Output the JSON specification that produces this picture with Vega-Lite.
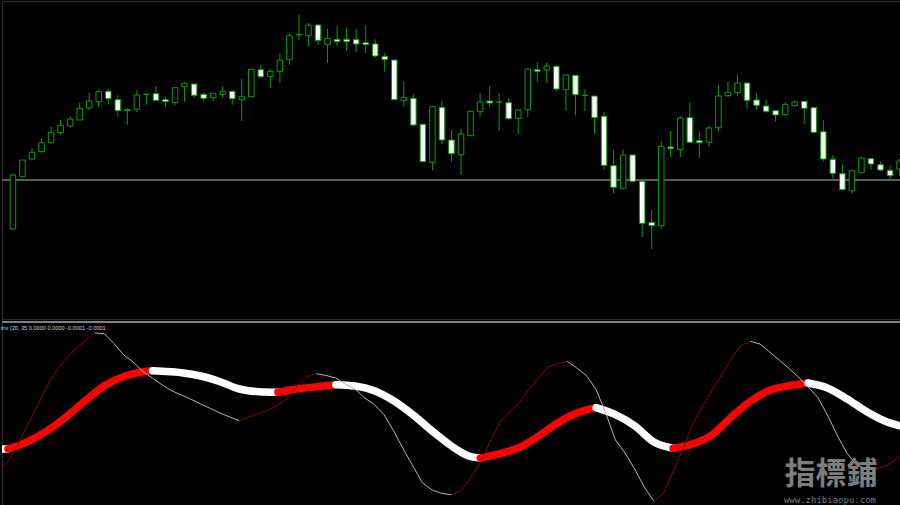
{
"$schema":"https://vega.github.io/schema/vega-lite/v6.json",
"background":"#000000",
"padding":0,
"spacing":0,
"config":{"view":{"stroke":"#2e2e2e","strokeWidth":1},"concat":{"spacing":0}},
"datasets":{
"candles":[
{"i":0,"o":92,"h":147.3,"l":91,"c":146},
{"i":1,"o":144.3,"h":161,"l":144.3,"c":161},
{"i":2,"o":162,"h":173,"l":160.7,"c":168.7},
{"i":3,"o":169.3,"h":183,"l":168.3,"c":178.3},
{"i":4,"o":178.3,"h":194,"l":177.7,"c":188.7},
{"i":5,"o":188.3,"h":201,"l":186,"c":195.7},
{"i":6,"o":195,"h":204.3,"l":193.3,"c":202},
{"i":7,"o":201,"h":218.3,"l":201,"c":212.7},
{"i":8,"o":213,"h":228,"l":210.7,"c":220},
{"i":9,"o":219.3,"h":231.7,"l":214,"c":229.3},
{"i":10,"o":229.7,"h":231.7,"l":216.7,"c":222.3},
{"i":11,"o":221.3,"h":225.7,"l":204.3,"c":210.3},
{"i":12,"o":210.5,"h":212.7,"l":196.3,"c":211.5},
{"i":13,"o":211.7,"h":231,"l":209,"c":226},
{"i":14,"o":226.7,"h":226.7,"l":216.3,"c":226.7},
{"i":15,"o":227.3,"h":235,"l":220.7,"c":220.7},
{"i":16,"o":221.3,"h":224.3,"l":214.3,"c":219.3},
{"i":17,"o":218.3,"h":234,"l":215.7,"c":233.3},
{"i":18,"o":234.3,"h":238.3,"l":219.3,"c":237.7},
{"i":19,"o":237,"h":237.7,"l":223.3,"c":225.7},
{"i":20,"o":226.7,"h":228,"l":220,"c":222.7},
{"i":21,"o":223.3,"h":227.7,"l":219.3,"c":227.7},
{"i":22,"o":226.7,"h":234.7,"l":223.3,"c":229.3},
{"i":23,"o":229.7,"h":229.7,"l":216.3,"c":222.3},
{"i":24,"o":221.3,"h":242,"l":200,"c":224.3},
{"i":25,"o":224.3,"h":252,"l":224.3,"c":251.7},
{"i":26,"o":251.3,"h":256,"l":242.7,"c":244.3},
{"i":27,"o":244.7,"h":251.7,"l":232.7,"c":249.7},
{"i":28,"o":249.7,"h":268,"l":238.3,"c":261},
{"i":29,"o":261.3,"h":287.7,"l":256.3,"c":285.3},
{"i":30,"o":286.3,"h":306.3,"l":281,"c":286.3},
{"i":31,"o":285.7,"h":298,"l":275,"c":295.7},
{"i":32,"o":296,"h":296.7,"l":276,"c":280.7},
{"i":33,"o":276.7,"h":292,"l":258,"c":282.7},
{"i":34,"o":281.7,"h":295,"l":275,"c":279.3},
{"i":35,"o":281.7,"h":292.7,"l":270,"c":279.3},
{"i":36,"o":281.3,"h":292,"l":269,"c":277},
{"i":37,"o":278.3,"h":295.3,"l":268,"c":276.3},
{"i":38,"o":277,"h":281.7,"l":263.3,"c":265},
{"i":39,"o":264.7,"h":267.7,"l":249.3,"c":261.3},
{"i":40,"o":261,"h":261,"l":221.3,"c":221.3},
{"i":41,"o":220.3,"h":239.7,"l":214.3,"c":223.3},
{"i":42,"o":222.7,"h":226.7,"l":195.3,"c":196},
{"i":43,"o":196.7,"h":196.7,"l":159.3,"c":159.3},
{"i":44,"o":158.7,"h":215.3,"l":150.7,"c":214.3},
{"i":45,"o":213.7,"h":220.3,"l":176.7,"c":181},
{"i":46,"o":181,"h":191,"l":159.3,"c":167.3},
{"i":47,"o":166.3,"h":192.3,"l":146,"c":187},
{"i":48,"o":185.3,"h":209.7,"l":185.3,"c":209.7},
{"i":49,"o":209.3,"h":228,"l":204.3,"c":219},
{"i":50,"o":220,"h":235,"l":214,"c":218},
{"i":51,"o":219,"h":228,"l":190,"c":219},
{"i":52,"o":218.3,"h":222.7,"l":201.3,"c":202.3},
{"i":53,"o":202.7,"h":211.7,"l":187,"c":211},
{"i":54,"o":211.3,"h":252.3,"l":204,"c":252},
{"i":55,"o":251.3,"h":259,"l":239,"c":249.7},
{"i":56,"o":251,"h":258,"l":238,"c":255},
{"i":57,"o":254.7,"h":255.7,"l":230,"c":232},
{"i":58,"o":231.3,"h":246,"l":210.7,"c":246},
{"i":59,"o":245.7,"h":245.7,"l":205.7,"c":226.3},
{"i":60,"o":225.7,"h":232,"l":210,"c":225.7},
{"i":61,"o":225,"h":225,"l":187,"c":203.3},
{"i":62,"o":204.7,"h":209,"l":151.3,"c":155.7},
{"i":63,"o":155.3,"h":171.3,"l":128,"c":133.7},
{"i":64,"o":132.7,"h":171.3,"l":131.7,"c":166},
{"i":65,"o":166,"h":166,"l":139.7,"c":139.7},
{"i":66,"o":139.7,"h":141.7,"l":84,"c":97.7},
{"i":67,"o":98.7,"h":111,"l":72,"c":95.3},
{"i":68,"o":95.3,"h":180,"l":92.3,"c":174.7},
{"i":69,"o":174,"h":190,"l":164,"c":172.3},
{"i":70,"o":171.3,"h":205,"l":164,"c":203},
{"i":71,"o":203.3,"h":218.7,"l":178.7,"c":178.7},
{"i":72,"o":180.3,"h":189.7,"l":163,"c":178.3},
{"i":73,"o":178.7,"h":195.3,"l":174.3,"c":193},
{"i":74,"o":193.3,"h":236,"l":189.7,"c":225},
{"i":75,"o":225.3,"h":239.7,"l":224.3,"c":228.7},
{"i":76,"o":228.3,"h":246.3,"l":225,"c":238},
{"i":77,"o":238,"h":238,"l":212.3,"c":220.7},
{"i":78,"o":221,"h":227.3,"l":211.7,"c":215.7},
{"i":79,"o":215,"h":221.3,"l":208.3,"c":209.7},
{"i":80,"o":210.3,"h":211,"l":199.3,"c":206},
{"i":81,"o":206.3,"h":219,"l":206.3,"c":216.7},
{"i":82,"o":215.3,"h":220.7,"l":214.7,"c":219},
{"i":83,"o":219.7,"h":220.3,"l":197.3,"c":212.7},
{"i":84,"o":213.3,"h":214.7,"l":188.7,"c":188.7},
{"i":85,"o":189.3,"h":201,"l":159.3,"c":162},
{"i":86,"o":161.7,"h":166,"l":142.3,"c":147.7},
{"i":87,"o":147.3,"h":156.3,"l":131.3,"c":131.3},
{"i":88,"o":130.3,"h":151,"l":127,"c":150.3},
{"i":89,"o":148.3,"h":164,"l":148.3,"c":163},
{"i":90,"o":162.3,"h":162.7,"l":151.3,"c":157},
{"i":91,"o":156.3,"h":159.3,"l":149.7,"c":151},
{"i":92,"o":150.7,"h":155.3,"l":140,"c":145.3},
{"i":93,"o":152,"h":162,"l":145,"c":160}
],
"thick":[
{"i":-1,"v":59,"seg":0,"dir":"down"},{"i":0,"v":59,"seg":0,"dir":"down"},
{"i":0,"v":59,"seg":1,"dir":"up"},{"i":2,"v":66.2,"seg":1,"dir":"up"},{"i":4,"v":76.8,"seg":1,"dir":"up"},{"i":6,"v":90.9,"seg":1,"dir":"up"},{"i":8,"v":107.3,"seg":1,"dir":"up"},{"i":10,"v":122.3,"seg":1,"dir":"up"},{"i":12,"v":131.5,"seg":1,"dir":"up"},{"i":14,"v":136.3,"seg":1,"dir":"up"},{"i":15,"v":137.2,"seg":1,"dir":"up"},
{"i":15,"v":137.2,"seg":2,"dir":"down"},{"i":16,"v":136.7,"seg":2,"dir":"down"},{"i":18,"v":135.3,"seg":2,"dir":"down"},{"i":20,"v":132,"seg":2,"dir":"down"},{"i":22,"v":126.3,"seg":2,"dir":"down"},{"i":24,"v":119,"seg":2,"dir":"down"},{"i":26,"v":116.3,"seg":2,"dir":"down"},{"i":28,"v":115.7,"seg":2,"dir":"down"},
{"i":28,"v":115.7,"seg":3,"dir":"up"},{"i":30,"v":119,"seg":3,"dir":"up"},{"i":32,"v":121.3,"seg":3,"dir":"up"},{"i":34,"v":123.3,"seg":3,"dir":"up"},
{"i":34,"v":123.3,"seg":4,"dir":"down"},{"i":36,"v":122,"seg":4,"dir":"down"},{"i":38,"v":117.3,"seg":4,"dir":"down"},{"i":40,"v":107.3,"seg":4,"dir":"down"},{"i":42,"v":93.3,"seg":4,"dir":"down"},{"i":44,"v":77,"seg":4,"dir":"down"},{"i":46,"v":62,"seg":4,"dir":"down"},{"i":48,"v":51.3,"seg":4,"dir":"down"},{"i":49,"v":50,"seg":4,"dir":"down"},
{"i":49,"v":50,"seg":5,"dir":"up"},{"i":51,"v":54.3,"seg":5,"dir":"up"},{"i":53,"v":60.3,"seg":5,"dir":"up"},{"i":55,"v":71.7,"seg":5,"dir":"up"},{"i":57,"v":85,"seg":5,"dir":"up"},{"i":59,"v":95,"seg":5,"dir":"up"},{"i":61,"v":100.3,"seg":5,"dir":"up"},
{"i":61,"v":100.3,"seg":6,"dir":"down"},{"i":63,"v":93.3,"seg":6,"dir":"down"},{"i":65,"v":82.3,"seg":6,"dir":"down"},{"i":67,"v":66,"seg":6,"dir":"down"},{"i":69,"v":59.7,"seg":6,"dir":"down"},
{"i":69,"v":59.7,"seg":7,"dir":"up"},{"i":71,"v":64,"seg":7,"dir":"up"},{"i":73,"v":73,"seg":7,"dir":"up"},{"i":75,"v":90.7,"seg":7,"dir":"up"},{"i":77,"v":106.7,"seg":7,"dir":"up"},{"i":79,"v":117.7,"seg":7,"dir":"up"},{"i":81,"v":122.3,"seg":7,"dir":"up"},{"i":83,"v":125,"seg":7,"dir":"up"},
{"i":83,"v":125,"seg":8,"dir":"down"},{"i":85,"v":120,"seg":8,"dir":"down"},{"i":87,"v":109.3,"seg":8,"dir":"down"},{"i":89,"v":96.7,"seg":8,"dir":"down"},{"i":91,"v":86.7,"seg":8,"dir":"down"},{"i":93,"v":81,"seg":8,"dir":"down"}
],
"thin":[
{"i":-1,"v":36,"seg":0,"dir":"up"},{"i":0,"v":47,"seg":0,"dir":"up"},{"i":1,"v":63,"seg":0,"dir":"up"},{"i":2,"v":82.3,"seg":0,"dir":"up"},{"i":3,"v":101.5,"seg":0,"dir":"up"},{"i":4,"v":121,"seg":0,"dir":"up"},{"i":5,"v":137.2,"seg":0,"dir":"up"},{"i":6,"v":149.5,"seg":0,"dir":"up"},{"i":7,"v":159.3,"seg":0,"dir":"up"},{"i":8,"v":167.3,"seg":0,"dir":"up"},{"i":9,"v":175,"seg":0,"dir":"up"},
{"i":9,"v":175,"seg":1,"dir":"down"},{"i":10,"v":174.3,"seg":1,"dir":"down"},{"i":11,"v":164.3,"seg":1,"dir":"down"},{"i":12,"v":153,"seg":1,"dir":"down"},{"i":13,"v":146,"seg":1,"dir":"down"},{"i":14,"v":136.3,"seg":1,"dir":"down"},{"i":15,"v":129.8,"seg":1,"dir":"down"},{"i":16,"v":123,"seg":1,"dir":"down"},{"i":17,"v":117.1,"seg":1,"dir":"down"},{"i":18,"v":113,"seg":1,"dir":"down"},{"i":19,"v":108.6,"seg":1,"dir":"down"},{"i":20,"v":104,"seg":1,"dir":"down"},{"i":21,"v":99.5,"seg":1,"dir":"down"},{"i":22,"v":95,"seg":1,"dir":"down"},{"i":23,"v":91,"seg":1,"dir":"down"},{"i":24,"v":87.3,"seg":1,"dir":"down"},
{"i":24,"v":87.3,"seg":2,"dir":"up"},{"i":25,"v":91,"seg":2,"dir":"up"},{"i":26,"v":94.5,"seg":2,"dir":"up"},{"i":27,"v":98,"seg":2,"dir":"up"},{"i":28,"v":103,"seg":2,"dir":"up"},{"i":29,"v":110.3,"seg":2,"dir":"up"},{"i":30,"v":122,"seg":2,"dir":"up"},{"i":31,"v":131.5,"seg":2,"dir":"up"},{"i":32,"v":134.3,"seg":2,"dir":"up"},
{"i":32,"v":134.3,"seg":3,"dir":"down"},{"i":33,"v":132.5,"seg":3,"dir":"down"},{"i":34,"v":130,"seg":3,"dir":"down"},{"i":35,"v":124,"seg":3,"dir":"down"},{"i":36,"v":119,"seg":3,"dir":"down"},{"i":37,"v":110,"seg":3,"dir":"down"},{"i":38,"v":103.5,"seg":3,"dir":"down"},{"i":39,"v":93.4,"seg":3,"dir":"down"},{"i":40,"v":77,"seg":3,"dir":"down"},{"i":41,"v":59,"seg":3,"dir":"down"},{"i":42,"v":42,"seg":3,"dir":"down"},{"i":43,"v":25,"seg":3,"dir":"down"},{"i":44,"v":18,"seg":3,"dir":"down"},{"i":45,"v":14.5,"seg":3,"dir":"down"},{"i":46,"v":13.3,"seg":3,"dir":"down"},
{"i":46,"v":13.3,"seg":4,"dir":"up"},{"i":47,"v":17.5,"seg":4,"dir":"up"},{"i":48,"v":30.6,"seg":4,"dir":"up"},{"i":49,"v":45.5,"seg":4,"dir":"up"},{"i":50,"v":66,"seg":4,"dir":"up"},{"i":51,"v":86,"seg":4,"dir":"up"},{"i":52,"v":96,"seg":4,"dir":"up"},{"i":53,"v":105,"seg":4,"dir":"up"},{"i":54,"v":118.3,"seg":4,"dir":"up"},{"i":55,"v":130,"seg":4,"dir":"up"},{"i":56,"v":141,"seg":4,"dir":"up"},{"i":57,"v":144,"seg":4,"dir":"up"},{"i":58,"v":146.7,"seg":4,"dir":"up"},
{"i":58,"v":146.7,"seg":5,"dir":"down"},{"i":59,"v":140,"seg":5,"dir":"down"},{"i":60,"v":132.5,"seg":5,"dir":"down"},{"i":61,"v":118.5,"seg":5,"dir":"down"},{"i":62,"v":95,"seg":5,"dir":"down"},{"i":63,"v":68,"seg":5,"dir":"down"},{"i":64,"v":55,"seg":5,"dir":"down"},{"i":65,"v":39,"seg":5,"dir":"down"},{"i":66,"v":21,"seg":5,"dir":"down"},{"i":67,"v":6.7,"seg":5,"dir":"down"},
{"i":67,"v":6.7,"seg":6,"dir":"up"},{"i":68,"v":15,"seg":6,"dir":"up"},{"i":69,"v":37,"seg":6,"dir":"up"},{"i":70,"v":59,"seg":6,"dir":"up"},{"i":71,"v":84,"seg":6,"dir":"up"},{"i":72,"v":101,"seg":6,"dir":"up"},{"i":73,"v":118,"seg":6,"dir":"up"},{"i":74,"v":133,"seg":6,"dir":"up"},{"i":75,"v":149,"seg":6,"dir":"up"},{"i":76,"v":162.5,"seg":6,"dir":"up"},{"i":77,"v":166.7,"seg":6,"dir":"up"},
{"i":77,"v":166.7,"seg":7,"dir":"down"},{"i":78,"v":164,"seg":7,"dir":"down"},{"i":79,"v":156,"seg":7,"dir":"down"},{"i":80,"v":148,"seg":7,"dir":"down"},{"i":81,"v":139.5,"seg":7,"dir":"down"},{"i":82,"v":131,"seg":7,"dir":"down"},{"i":83,"v":121,"seg":7,"dir":"down"},{"i":84,"v":110.5,"seg":7,"dir":"down"},{"i":85,"v":93,"seg":7,"dir":"down"},{"i":86,"v":73,"seg":7,"dir":"down"},{"i":87,"v":55,"seg":7,"dir":"down"},{"i":88,"v":43,"seg":7,"dir":"down"},{"i":89,"v":39.3,"seg":7,"dir":"down"},{"i":90,"v":39,"seg":7,"dir":"down"},
{"i":90,"v":39,"seg":8,"dir":"up"},{"i":91,"v":41.7,"seg":8,"dir":"up"},{"i":92,"v":48,"seg":8,"dir":"up"},{"i":93,"v":56,"seg":8,"dir":"up"}
]
},
"vconcat":[
{
"width":900,"height":318,
"data":{"name":"candles"},
"layer":[
{"mark":{"type":"rule","color":"#5c5c5c","strokeWidth":1.6},
 "encoding":{"y":{"datum":141,"type":"quantitative","scale":{"domain":[2,320],"nice":false,"zero":false},"axis":null}}},
{"mark":{"type":"rule","color":"#00a000","strokeWidth":1,"clip":true},
 "encoding":{
  "x":{"field":"i","type":"quantitative","scale":{"domain":[-0.622,92.73],"nice":false,"zero":false},"axis":null},
  "y":{"field":"l","type":"quantitative","scale":{"domain":[2,320],"nice":false,"zero":false},"axis":null},
  "y2":{"field":"h"}}},
{"mark":{"type":"bar","size":5.5,"stroke":"#00a000","strokeWidth":1,"clip":true},
 "encoding":{
  "x":{"field":"i","type":"quantitative","scale":{"domain":[-0.622,92.73],"nice":false,"zero":false},"axis":null},
  "y":{"field":"o","type":"quantitative","scale":{"domain":[2,320],"nice":false,"zero":false},"axis":null},
  "y2":{"field":"c"},
  "fill":{"condition":{"test":"datum.c >= datum.o","value":"#000000"},"value":"#ffffff"}}}
]
},
{
"width":900,"height":187,
"layer":[
{"data":{"values":[{}]},
 "mark":{"type":"rule","color":"#808080","strokeWidth":2},
 "encoding":{"y":{"datum":186,"type":"quantitative","scale":{"domain":[0,187],"nice":false,"zero":false},"axis":null}}},
{"data":{"name":"thick"},
 "mark":{"type":"line","strokeWidth":7.5,"interpolate":"monotone","strokeCap":"round","strokeJoin":"round","clip":true},
 "encoding":{
  "x":{"field":"i","type":"quantitative","scale":{"domain":[-0.622,92.73],"nice":false,"zero":false},"axis":null},
  "y":{"field":"v","type":"quantitative","scale":{"domain":[0,187],"nice":false,"zero":false},"axis":null},
  "color":{"field":"dir","type":"nominal","scale":{"domain":["down","up"],"range":["#ffffff","#ff0000"]},"legend":null},
  "detail":{"field":"seg"}}},
{"data":{"name":"thin"},
 "mark":{"type":"line","strokeWidth":1,"clip":true},
 "encoding":{
  "x":{"field":"i","type":"quantitative","scale":{"domain":[-0.622,92.73],"nice":false,"zero":false},"axis":null},
  "y":{"field":"v","type":"quantitative","scale":{"domain":[0,187],"nice":false,"zero":false},"axis":null},
  "color":{"field":"dir","type":"nominal","scale":{"domain":["down","up"],"range":["#b4b4b4","#8b0000"]},"legend":null},
  "detail":{"field":"seg"}}},
{"data":{"values":[{"t":"trix (20, 35 0.0000 0.0000 -0.0001 -0.0001"}]},
 "mark":{"type":"text","align":"left","baseline":"middle","font":"Liberation Sans","fontSize":5.6,"color":"#d0d0d0"},
 "encoding":{
  "x":{"datum":-0.75,"type":"quantitative"},
  "y":{"datum":180,"type":"quantitative"},
  "text":{"field":"t"}}},
{"data":{"values":[{"t":"指標鋪"}]},
 "mark":{"type":"text","align":"center","baseline":"middle","font":"Noto Sans CJK TC","fontWeight":"bold","fontSize":31,"color":"#7d7d7d"},
 "encoding":{
  "x":{"datum":85.37,"type":"quantitative"},
  "y":{"datum":33,"type":"quantitative"},
  "text":{"field":"t"}}},
{"data":{"values":[{"t":"www.zhibiaopu.com"}]},
 "mark":{"type":"text","align":"center","baseline":"middle","font":"DejaVu Sans Mono","fontSize":9,"color":"#7d7d7d"},
 "encoding":{
  "x":{"datum":85.26,"type":"quantitative"},
  "y":{"datum":8.5,"type":"quantitative"},
  "text":{"field":"t"}}}
],
"resolve":{"scale":{"color":"independent"}}
}
]
}
